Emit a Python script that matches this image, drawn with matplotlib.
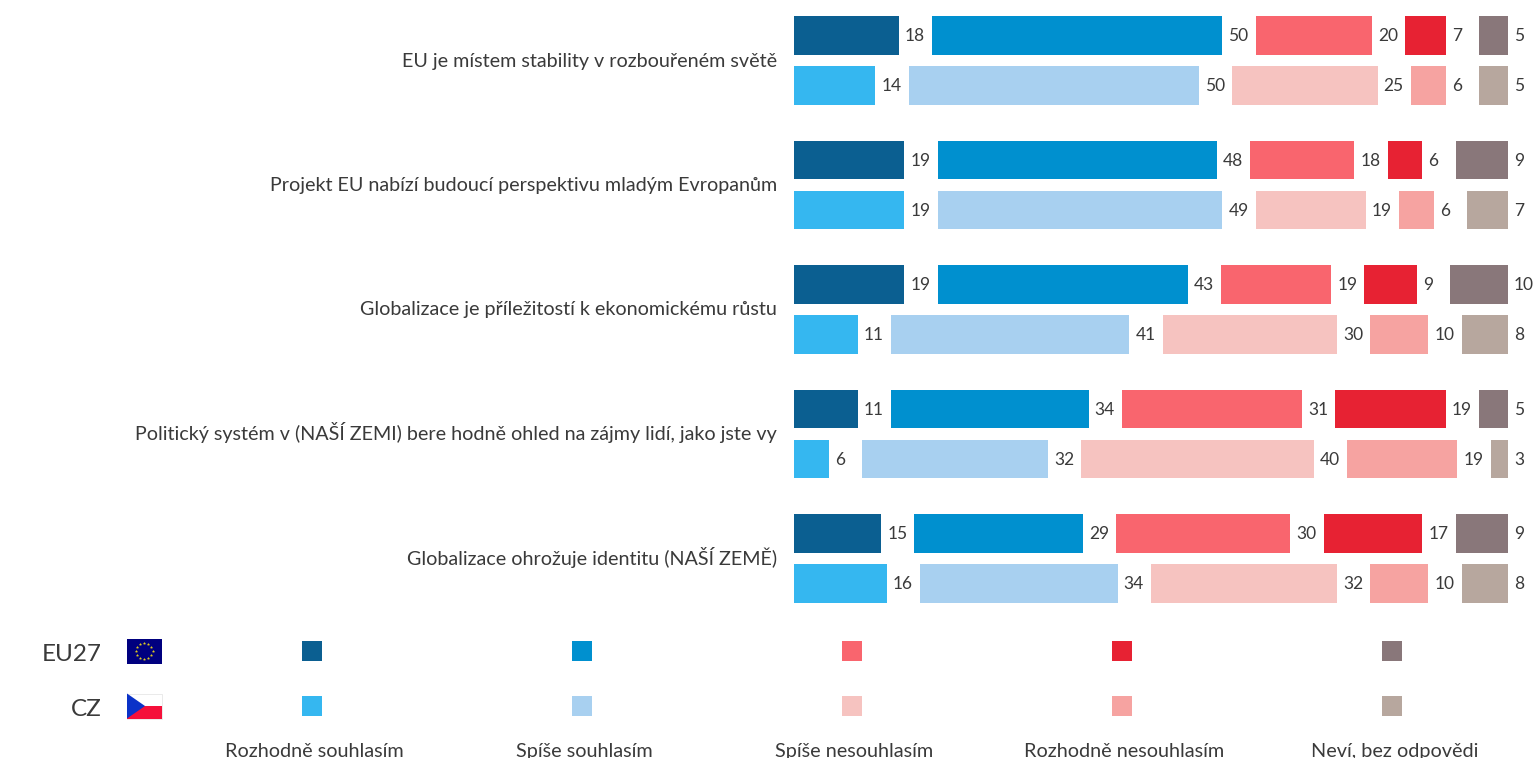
import numpy as np
import matplotlib
matplotlib.use("Agg")
import matplotlib.pyplot as plt
from matplotlib.patches import Polygon, Rectangle

plt.rcParams['font.family'] = ['Lato', 'DejaVu Sans']

# -------------------- data --------------------
statements = [
    "EU je místem stability v rozbouřeném světě",
    "Projekt EU nabízí budoucí perspektivu mladým Evropanům",
    "Globalizace je příležitostí k ekonomickému růstu",
    "Politický systém v (NAŠÍ ZEMI) bere hodně ohled na zájmy lidí, jako jste vy",
    "Globalizace ohrožuje identitu (NAŠÍ ZEMĚ)",
]
answers = ["Rozhodně souhlasím", "Spíše souhlasím", "Spíše nesouhlasím",
           "Rozhodně nesouhlasím", "Neví, bez odpovědi"]

eu27_values = [
    [18, 50, 20, 7, 5],
    [19, 48, 18, 6, 9],
    [19, 43, 19, 9, 10],
    [11, 34, 31, 19, 5],
    [15, 29, 30, 17, 9],
]
cz_values = [
    [14, 50, 25, 6, 5],
    [19, 49, 19, 6, 7],
    [11, 41, 30, 10, 8],
    [6, 32, 40, 19, 3],
    [16, 34, 32, 10, 8],
]

eu27_colors = ["#0b5f91", "#0090cf", "#f9656e", "#e72233", "#89777a"]
cz_colors = ["#35b7f0", "#a8d0f0", "#f6c3c0", "#f6a3a1", "#b7a79e"]

# -------------------- layout (pixels) --------------------
W, H = 1536, 758
BAR_LEFT, BAR_RIGHT = 794, 1508
PITCH = 124.5
FIRST_CENTER = 60.5
GAP = 33.2 / 5.81     # white space between answers, in percent units
TEXT = "#3a3a3a"

fig = plt.figure(figsize=(W / 100, H / 100), dpi=100)

# overlay in pixel coordinates for the legend, flags and labels
over = fig.add_axes([0, 0, 1, 1])
over.set_xlim(0, W)
over.set_ylim(H, 0)
over.axis("off")

# bars
top_px = FIRST_CENTER - PITCH / 2
bot_px = top_px + PITCH * len(statements)
ax = fig.add_axes([BAR_LEFT / W, 1 - bot_px / H, (BAR_RIGHT - BAR_LEFT) / W, (bot_px - top_px) / H])
ax.set_xlim(0, 100 + GAP * 4)
ax.set_ylim(len(statements) - 0.5, -0.5)
ax.axis("off")

bar_h = 38.5 / PITCH
offset = 25 / PITCH


def draw_row(y, values, colors):
    left = 0
    for val, col in zip(values, colors):
        ax.barh(y, val, left=left, height=bar_h, color=col, linewidth=0)
        ax.annotate(str(val), (left + val, y), xytext=(4.3, -0.5), textcoords="offset points",
                    ha="left", va="center", fontsize=12.5, color=TEXT, annotation_clip=False)
        left += val + GAP


for i, text in enumerate(statements):
    draw_row(i - offset, eu27_values[i], eu27_colors)
    draw_row(i + offset, cz_values[i], cz_colors)
    over.text(777, FIRST_CENTER + PITCH * i + 6, text, ha="right", va="baseline", fontsize=14.25, color=TEXT)

# legend
legend_x = [312, 582, 852, 1121.5, 1392]
for x, name, c1, c2 in zip(legend_x, answers, eu27_colors, cz_colors):
    over.add_patch(Rectangle((x - 10, 641), 20, 20, color=c1, linewidth=0))
    over.add_patch(Rectangle((x - 10, 696), 20, 20, color=c2, linewidth=0))
    over.text(x + 2.5, 757, name, ha="center", va="baseline", fontsize=14.3, color=TEXT)

over.text(102, 661, "EU27", ha="right", va="baseline", fontsize=17.5, color=TEXT)
over.text(102, 716, "CZ", ha="right", va="baseline", fontsize=17.5, color=TEXT)

# EU flag
over.add_patch(Rectangle((127, 638.5), 34.5, 25, color="#00007f", linewidth=0))
a = np.arange(12) * np.pi / 6
over.scatter(144.2 + 8.3 * np.cos(a), 651 + 8.3 * np.sin(a), s=2.5, marker="*", color="#e8d21d", linewidth=0.3)

# CZ flag
over.add_patch(Rectangle((127, 693.5), 34.5, 12.5, color="#ffffff", linewidth=0))
over.add_patch(Rectangle((127, 693.5), 34.5, 25, fill=False, edgecolor="#e6e6e6", linewidth=0.6))
over.add_patch(Rectangle((127, 706), 34.5, 12.5, color="#f5103a", linewidth=0))
over.add_patch(Polygon([(127, 693.5), (145, 706), (127, 718.5)], color="#0a32c8", linewidth=0))

fig.savefig("out.png", dpi=100)
